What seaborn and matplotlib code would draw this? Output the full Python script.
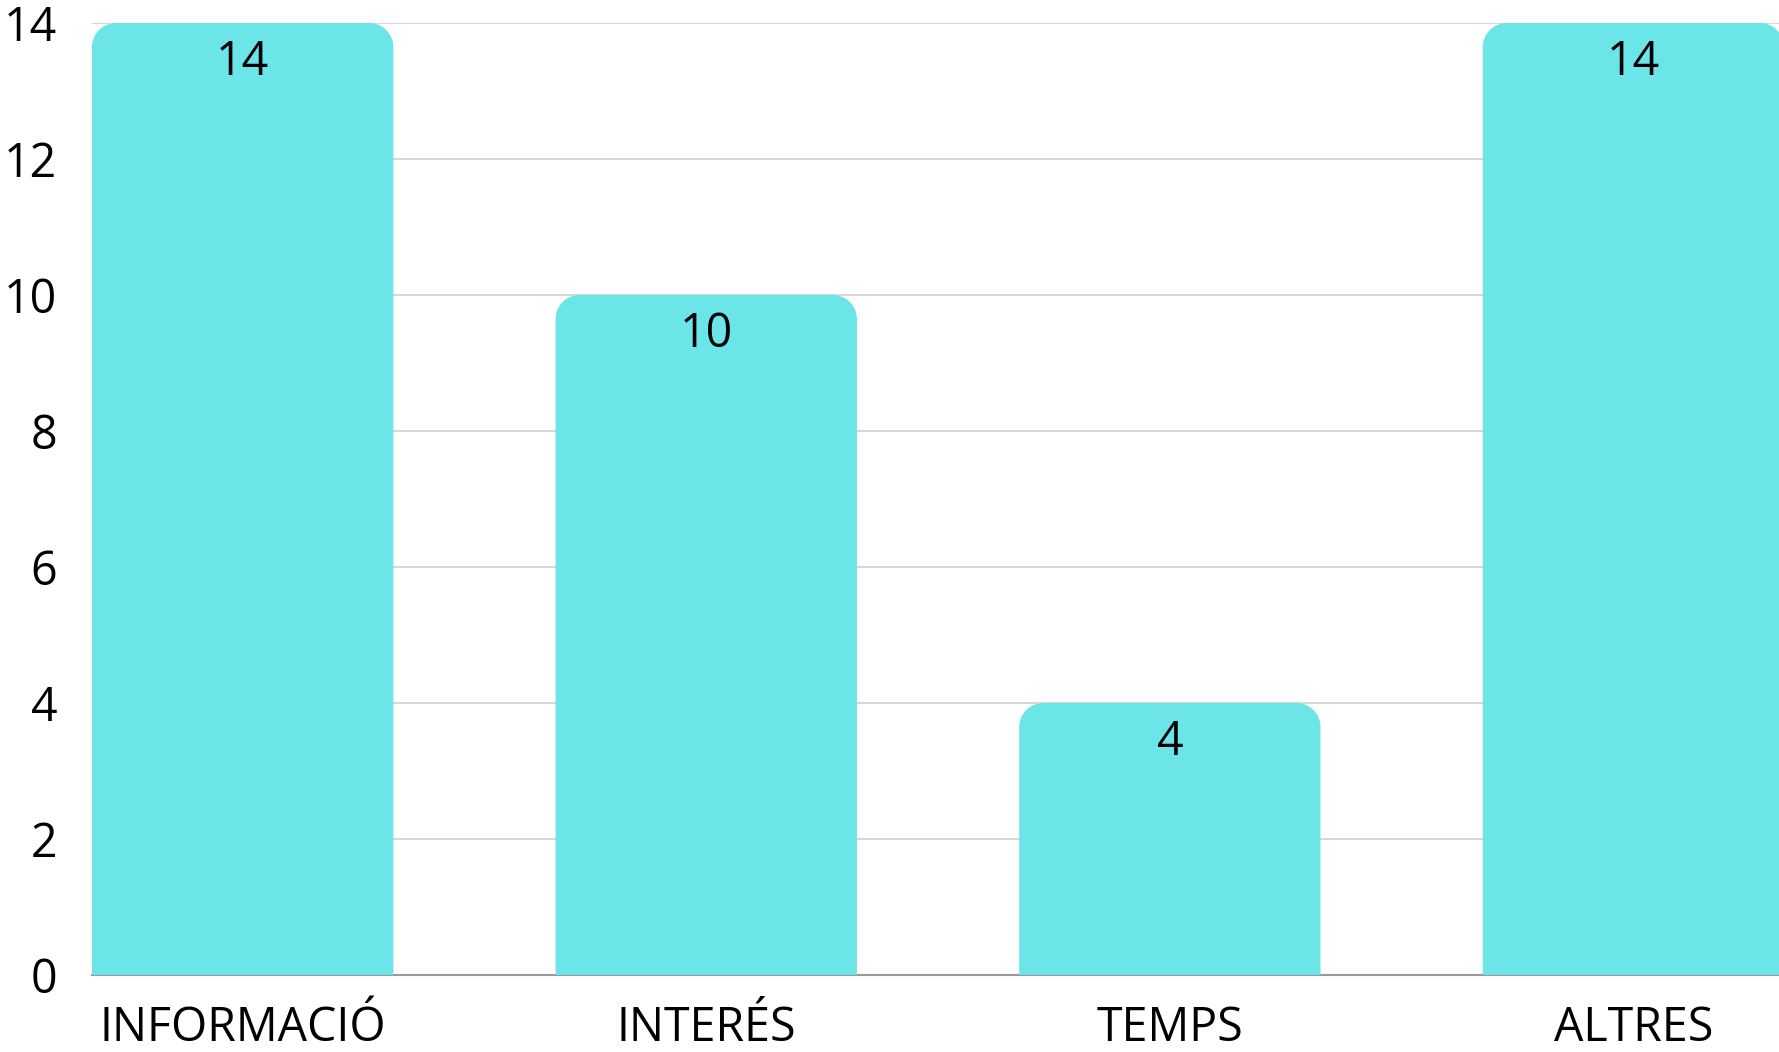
"""Bar chart: motius per categoria, with rounded bar tops."""

import matplotlib

matplotlib.use("Agg")
import matplotlib.pyplot as plt
import pandas as pd
import seaborn as sns
from matplotlib.patches import PathPatch
from matplotlib.path import Path

categories = ["INFORMACIÓ", "INTERÉS", "TEMPS", "ALTRES"]
counts = [14, 10, 4, 14]
y_ticks = [0, 2, 4, 6, 8, 10, 12, 14]

BAR_COLOR = "#6CE5E8"
CORNER_PX = 24  # rounding radius of the bar tops, in pixels
FONT_SIZE = 33.5


def rounded_top(ax, x0, w, h, r_px):
    """Path for a bar with rounded top corners, radius given in pixels."""
    bbox = ax.get_window_extent()
    x_lo, x_hi = ax.get_xlim()
    y_lo, y_hi = ax.get_ylim()
    rx = r_px * (x_hi - x_lo) / bbox.width
    ry = r_px * (y_hi - y_lo) / bbox.height
    k = 0.5523  # bezier circle constant
    x1 = x0 + w
    verts = [
        (x0, 0),
        (x0, h - ry),
        (x0, h - ry + k * ry), (x0 + rx - k * rx, h), (x0 + rx, h),
        (x1 - rx, h),
        (x1 - rx + k * rx, h), (x1, h - ry + k * ry), (x1, h - ry),
        (x1, 0),
        (x0, 0),
    ]
    codes = [
        Path.MOVETO,
        Path.LINETO,
        Path.CURVE4, Path.CURVE4, Path.CURVE4,
        Path.LINETO,
        Path.CURVE4, Path.CURVE4, Path.CURVE4,
        Path.LINETO,
        Path.CLOSEPOLY,
    ]
    return Path(verts, codes)


sns.set_style("white")
plt.rcParams["font.family"] = ["Open Sans", "DejaVu Sans"]

W, H = 1779, 1052
fig = plt.figure(figsize=(W / 100, H / 100), dpi=100)
ax = fig.add_axes([92 / W, 1 - 975 / H, 1 - 92 / W, (975 - 23) / H])

df = pd.DataFrame({"cat": categories, "n": counts})
sns.barplot(data=df, x="cat", y="n", color=BAR_COLOR, width=0.65, ax=ax, zorder=2)

ax.set_xlim(-0.325, 3.314)
ax.set_ylim(0, 14)
ax.set_yticks(y_ticks)
ax.yaxis.grid(True, color="#cccccc", linewidth=1.1, zorder=0)
ax.set_axisbelow(True)
for side in ("top", "right", "left"):
    ax.spines[side].set_visible(False)
ax.spines["bottom"].set_color("#999999")
ax.spines["bottom"].set_linewidth(1.5)
ax.spines["bottom"].set_zorder(1)
ax.tick_params(axis="y", length=0, pad=25, labelsize=FONT_SIZE, labelcolor="black")
ax.tick_params(axis="x", length=0, pad=21.5, labelsize=FONT_SIZE, labelcolor="black")
ax.set_xlabel("")
ax.set_ylabel("")

# swap the square bars for ones with rounded tops
bars = list(ax.patches)
for bar in bars:
    x0, w, h = bar.get_x(), bar.get_width(), bar.get_height()
    bar.set_visible(False)
    ax.add_patch(PathPatch(rounded_top(ax, x0, w, h, CORNER_PX),
                           facecolor=BAR_COLOR, edgecolor="none", zorder=2,
                           clip_on=False))
    ax.annotate(f"{h:g}", xy=(x0 + w / 2, h), xytext=(0, -11),
                textcoords="offset points", ha="center", va="top",
                fontsize=FONT_SIZE, color="black", zorder=3)

fig.savefig("out.png", dpi=100)
